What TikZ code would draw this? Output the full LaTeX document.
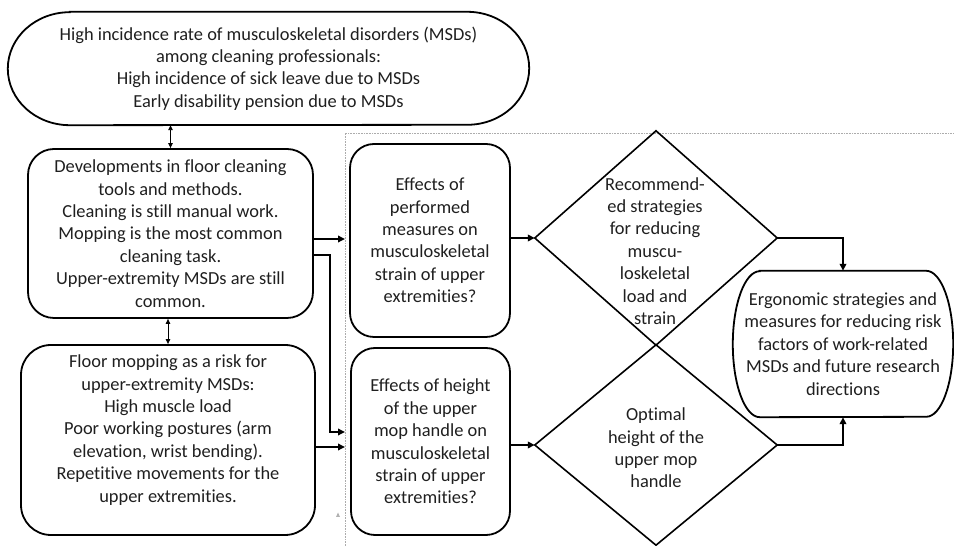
\documentclass[tikz,border=0pt]{standalone}
\usepackage{fontspec}
\setmainfont[Ligatures={NoCommon,NoRequired,NoContextual}]{Carlito}
\usetikzlibrary{arrows.meta,calc}

\begin{document}
\begin{tikzpicture}[x=1pt,y=1pt,
  txt/.style={align=center, font=\fontsize{18.4}{22.4}\selectfont, text=black!88, inner sep=0},
  holder/.style={txt, draw=none},
  rbox/.style={txt, draw, line width=1.8pt, rounded corners=26pt},
  outline/.style={draw, line width=1.8pt},
  dline/.style={draw, line width=1.6pt, line join=miter},
  conn/.style={line width=2pt, -{Triangle[length=7pt,width=6.5pt]}},
  dbl/.style={line width=0.9pt, {Triangle[length=5pt,width=4.5pt]}-{Triangle[length=5pt,width=4.5pt]}},
  frame/.style={draw=gray!65, line width=0.6pt, densely dotted}
]
\useasboundingbox (0,0) rectangle (954,546);

% dotted frame around the study part
\draw[frame] (345,0) -- (345,413) -- (954,413);
\fill[gray!60] (336,29) -- (340,29) -- (338,33.5) -- cycle;

% top: problem statement (rounded terminator)
\node[holder, minimum width=521pt, minimum height=113pt] (top) at (268.5,477.5)
  {High incidence rate of musculoskeletal disorders (MSDs)\\among cleaning professionals:\\High incidence of sick leave due to MSDs\\Early disability pension due to MSDs};
\draw[outline] ([xshift=62pt]top.north west) -- ([xshift=-62pt]top.north east)
  arc[start angle=90,end angle=-90,x radius=62pt,y radius=56.5pt]
  -- ([xshift=62pt]top.south west)
  arc[start angle=270,end angle=90,x radius=62pt,y radius=56.5pt] -- cycle;

% left column
\node[rbox, minimum width=285pt, minimum height=169pt] (b2) at (170.5,312.5)
  {Developments in floor cleaning\\tools and methods.\\Cleaning is still manual work.\\Mopping is the most common\\cleaning task.\\Upper-extremity MSDs are still\\common.};
\node[rbox, rounded corners=30pt, minimum width=294pt, minimum height=190pt] (b3) at (168,106) {};
\node[txt] (t3) at (168,116)
  {Floor mopping as a risk for\\upper-extremity MSDs:\\High muscle load\\Poor working postures (arm\\elevation, wrist bending).\\Repetitive movements for the\\upper extremities.};

\draw[dbl] (top.south -| b2.north) -- (b2.north);
\draw[dbl] (b3.north |- b2.south) -- (b3.north);

% research questions
\node[rbox, rounded corners=24pt, minimum width=160pt, minimum height=193pt] (b4) at (430,305.5)
  {Effects of\\performed\\measures on\\musculoskeletal\\strain of upper\\extremities?};
\node[rbox, rounded corners=24pt, minimum width=159pt, minimum height=187pt] (b5) at (430.5,104.5)
  {Effects of height\\of the upper\\mop handle on\\musculoskeletal\\strain of upper\\extremities?};

% decisions
\node[holder, minimum width=242pt, minimum height=214pt] (d1) at (656,308) {};
\draw[dline] (d1.west) -- (d1.north) -- (d1.east) -- (d1.south) -- cycle;
\node[txt] (t5) at (655,295)
  {Recommend-\\ed strategies\\for reducing\\muscu-\\loskeletal\\load and\\strain};
\node[holder, minimum width=242pt, minimum height=200pt] (d2) at (656,101) {};
\draw[dline] (d2.west) -- (d2.north) -- (d2.east) -- (d2.south) -- cycle;
\node[txt] (t6) at (656,98)
  {Optimal\\height of the\\upper mop\\handle};

% outcome
\node[holder, minimum width=220pt, minimum height=146pt] (f) at (843,202)
  {Ergonomic strategies and\\measures for reducing risk\\factors of work-related\\MSDs and future research\\directions};
\draw[outline] ([xshift=27pt]f.north west) -- ([xshift=-27pt]f.north east)
  arc[start angle=90,end angle=-90,x radius=27pt,y radius=73pt]
  -- ([xshift=27pt]f.south west)
  arc[start angle=270,end angle=90,x radius=27pt,y radius=73pt] -- cycle;

% connectors
\coordinate (e1) at (345,307);
\coordinate (e2) at (345,114);
\coordinate (e3) at (345,99);
\draw[conn] (b2.east |- e1) -- (e1);
\draw[conn] (b2.east |- 0,291) -| (330,114) -- (e2);
\draw[conn] (b3.east |- e3) -- (e3);
\draw[conn] (b4.east |- d1.west) -- (d1.west);
\draw[conn] (b5.east |- d2.west) -- (d2.west);
\draw[conn] (d1.east) -| (f.north);
\draw[conn] (d2.east) -| (f.south);
\end{tikzpicture}
\end{document}
